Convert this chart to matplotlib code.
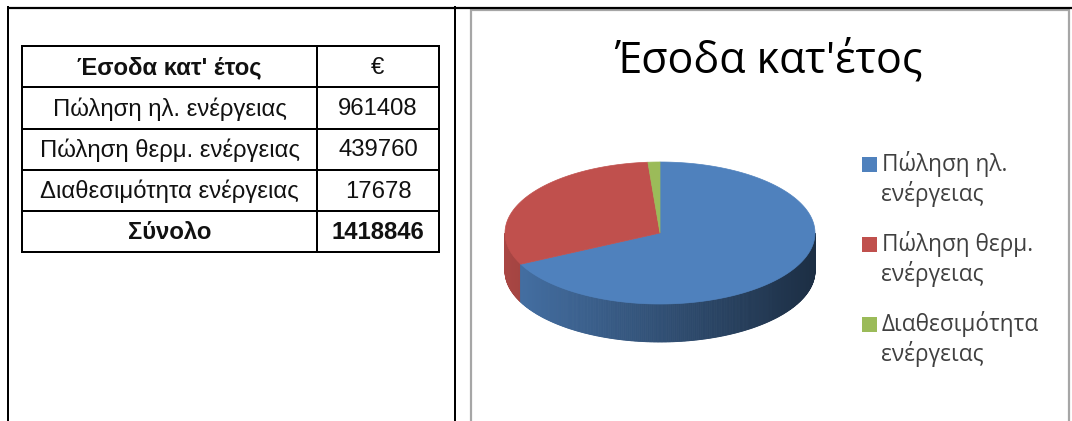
import numpy as np
import matplotlib
matplotlib.use("Agg")
import matplotlib.pyplot as plt
from matplotlib.patches import Polygon, Rectangle

# ---- data ----
categories = ["Πώληση ηλ. ενέργειας", "Πώληση θερμ. ενέργειας", "Διαθεσιμότητα ενέργειας"]
legend_labels = ["Πώληση ηλ.\nενέργειας", "Πώληση θερμ.\nενέργειας", "Διαθεσιμότητα\nενέργειας"]
values = [961408, 439760, 17678]
header = ["Έσοδα κατ' έτος", "€"]
total_label = "Σύνολο"
chart_title = "Έσοδα κατ'έτος"
colors = ["#4F81BD", "#C0504D", "#9BBB59"]

W, H = 1072, 421
fig = plt.figure(figsize=(W / 100, H / 100), dpi=100)
ax = fig.add_axes([0, 0, 1, 1])
ax.set_xlim(0, W)
ax.set_ylim(H, 0)
ax.axis("off")
PX = 0.72  # one pixel in points

TFONT = "Liberation Sans"
CFONT = "Open Sans"

# ---- outer frame ----
ax.plot([7, W], [7.5, 7.5], color="black", lw=2.2 * PX, solid_capstyle="butt")
ax.plot([7.5, 7.5], [7, H], color="black", lw=2 * PX)
ax.plot([455, 455], [7, H], color="black", lw=2 * PX)

# ---- table ----
tx0, tx1, tmid = 22, 439, 317
row_y = [46, 87, 129, 170, 211, 252]
for y in row_y:
    ax.plot([tx0, tx1], [y, y], color="black", lw=2 * PX)
for x in (tx0, tmid, tx1):
    ax.plot([x, x], [row_y[0], row_y[-1]], color="black", lw=2 * PX)

rows = [(header[0], header[1], "bold", "normal")]
rows += [(c, str(v), "normal", "normal") for c, v in zip(categories, values)]
rows += [(total_label, str(sum(values)), "bold", "bold")]
for i, (lab, val, w1, w2) in enumerate(rows):
    yc = (row_y[i] + row_y[i + 1]) / 2 + 1
    ax.text((tx0 + tmid) / 2, yc, lab, ha="center", va="center", fontsize=17.2,
            family=TFONT, weight=w1, color="#111111")
    ax.text((tmid + tx1) / 2, yc, val, ha="center", va="center", fontsize=17.2,
            family=TFONT, weight=w2, color="#111111")

# ---- chart panel ----
ax.add_patch(Rectangle((471, 10), 1069 - 471, H + 20, facecolor="white",
                       edgecolor="#A6A6A6", lw=2.2 * PX))
ax.text(768, 61, chart_title, ha="center", va="center", fontsize=31,
        family=CFONT, color="black")

# ---- 3D pie ----
cx, cy, rx, ry, depth = 660, 233, 155, 71, 38
frac = np.array(values) / sum(values)
bounds = np.concatenate([[0], np.cumsum(frac)])


def ell(theta_deg, dy=0.0):
    t = np.radians(theta_deg)
    return cx + rx * np.cos(t), cy - ry * np.sin(t) + dy


def slice_of(theta_deg):
    f = ((90 - theta_deg) % 360) / 360
    return min(np.searchsorted(bounds, f, side="right") - 1, len(values) - 1)


def shade(hexcol, k):
    rgb = np.array(matplotlib.colors.to_rgb(hexcol))
    return tuple(np.clip(rgb * k, 0, 1))


# side wall: front half only, darkening from left to right
step = 0.5
for a in np.arange(180, 360, step):
    b = a + step
    x1, y1 = ell(a)
    x2, y2 = ell(b)
    idx = slice_of((a + b) / 2)
    t = ((x1 + x2) / 2 - (cx - rx)) / (2 * rx)
    k = 0.88 - 0.52 * t
    col = shade(colors[idx], k)
    ax.add_patch(Polygon([(x1, y1), (x2, y2), (x2, y2 + depth), (x1, y1 + depth)],
                         closed=True, facecolor=col, edgecolor=col, lw=0.6))

# top face
for i in range(len(values)):
    th1 = 90 - bounds[i] * 360
    th2 = 90 - bounds[i + 1] * 360
    ang = np.linspace(th1, th2, max(int(abs(th1 - th2) * 2), 4))
    pts = [(cx, cy)] + [ell(a) for a in ang]
    ax.add_patch(Polygon(pts, closed=True, facecolor=colors[i], edgecolor=colors[i], lw=0.5))

# ---- legend ----
lx, ly0, gap, line_h = 862, 164, 80, 30
for i, lab in enumerate(legend_labels):
    yc = ly0 + i * gap
    ax.add_patch(Rectangle((lx, yc - 7.5), 15, 15, facecolor=colors[i], edgecolor="none"))
    first, second = lab.split("\n")
    ax.text(lx + 20, yc, first, ha="left", va="center", fontsize=16.3,
            family=CFONT, color="#404040")
    ax.text(lx + 19, yc + line_h, second, ha="left", va="center", fontsize=16.3,
            family=CFONT, color="#404040")

fig.savefig("out.png", dpi=100)
